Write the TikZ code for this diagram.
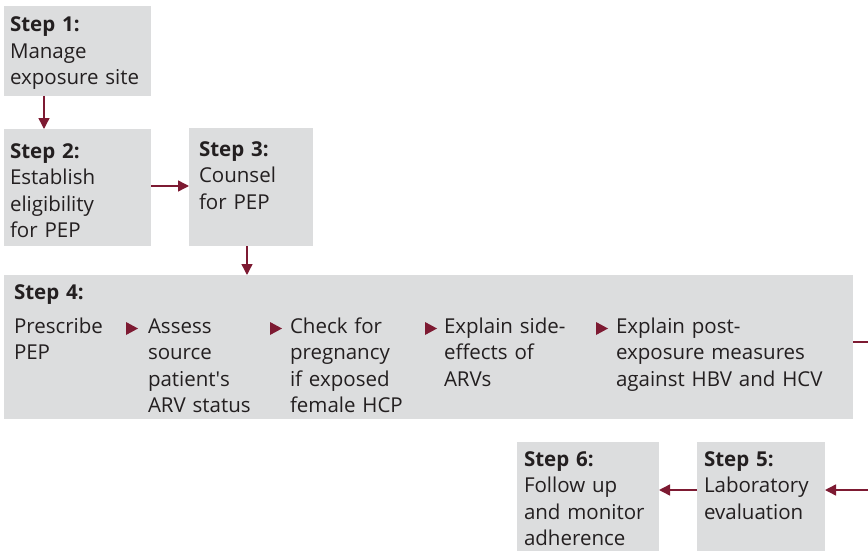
\documentclass[tikz,border=0pt]{standalone}
\usepackage{fontspec}
\setmainfont{Open Sans}
\usetikzlibrary{arrows.meta}
\definecolor{boxgrey}{HTML}{DCDDDE}
\definecolor{wine}{HTML}{7D1A32}
\definecolor{ink}{HTML}{231F20}
\newcommand{\steptext}{\fontsize{20.5}{26.5}\selectfont}
\tikzset{
  box/.style={fill=boxgrey, draw=none, anchor=north west, inner sep=0pt, outer sep=0pt},
  txt/.style={anchor=base west, inner sep=0pt, outer sep=0pt, align=left,
              text width=#1, font=\steptext, text=ink},
  txt/.default=220pt,
  flow/.style={draw=wine, line width=1.4pt, -{Triangle[length=11pt,width=11pt]}},
  pointer/.style={fill=wine}
}
\begin{document}
\begin{tikzpicture}[x=1pt,y=-1pt]
  \useasboundingbox (0,0) rectangle (868,551);
  \clip (0,0) rectangle (868,551);

  % grey step boxes
  \node[box, minimum width=147pt, minimum height=90pt]  (b1) at (4,6) {};
  \node[box, minimum width=147pt, minimum height=117pt] (b2) at (4,129) {};
  \node[box, minimum width=124pt, minimum height=118pt] (b3) at (189,128) {};
  \node[box, minimum width=849pt, minimum height=144pt] (b4) at (4,275) {};
  \node[box, minimum width=142pt, minimum height=120pt] (b6) at (517,442) {};
  \node[box, minimum width=128pt, minimum height=120pt] (b5) at (697,442) {};

  % step texts
  \node[txt] (t1) at (10,32)  {\textbf{Step 1:}\\Manage\\exposure site};
  \node[txt] (t2) at (10,158) {\textbf{Step 2:}\\Establish\\eligibility\\for PEP};
  \node[txt] (t3) at (199,156) {\textbf{Step 3:}\\Counsel\\for PEP};
  \node[txt] (t4) at (14,299) {\textbf{Step 4:}};
  \node[txt] (t4a) at (14,333)  {Prescribe\\PEP};
  \node[txt] (t4b) at (148,333) {Assess\\source\\patient\textquotesingle s\\ARV status};
  \node[txt] (t4c) at (290,333) {Check for\\pregnancy\\if exposed\\female HCP};
  \node[txt] (t4d) at (444,333) {Explain side-\\effects of\\ARVs};
  \node[txt] (t4e) at (616,333) {Explain post-\\exposure measures\\against HBV and HCV};
  \node[txt] (t6) at (524,466) {\textbf{Step 6:}\\Follow up\\and monitor\\adherence};
  \node[txt] (t5) at (704,466) {\textbf{Step 5:}\\Laboratory\\evaluation};

  % small pointers between the sub-steps of step 4
  \foreach \px in {126,270,425,596} {
    \fill[pointer] (\px,322) -- (\px+12,328.5) -- (\px,335) -- cycle;
  }

  % connectors
  \coordinate (bendA) at (880,342);
  \coordinate (bendB) at (880,490);
  \draw[flow] ([xshift=40pt]b1.south west) -- ([xshift=40pt]b1.south west |- b2.north);
  \draw[flow] ([yshift=-57pt]b2.north east) -- ([yshift=-57pt]b2.north east -| b3.west);
  \draw[flow] ([xshift=58pt]b3.south west) -- ([xshift=58pt]b3.south west |- b4.north);
  \draw[flow] ([yshift=-67pt]b4.north east) -- (bendA) -- (bendB) -- (bendB -| b5.east);
  \draw[flow] ([yshift=-48pt]b5.north west) -- ([yshift=-48pt]b5.north west -| b6.east);
\end{tikzpicture}
\end{document}
